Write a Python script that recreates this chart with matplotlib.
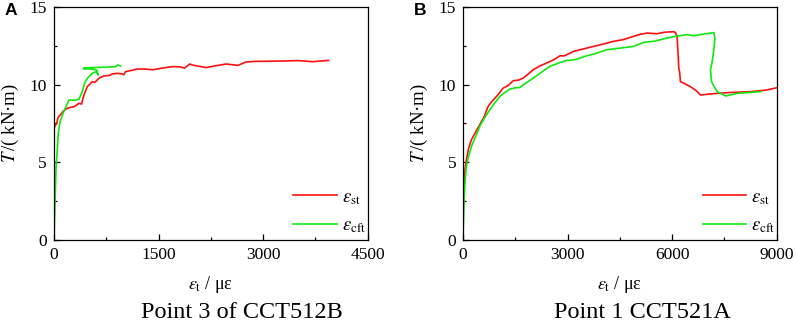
import matplotlib
matplotlib.use('Agg')
import matplotlib.pyplot as plt
from matplotlib.ticker import MultipleLocator

plt.rcParams['font.family'] = 'Liberation Serif'
plt.rcParams['mathtext.fontset'] = 'stix'

# Panel A: Point 3 of CCT512B
a_st_x = [0, 10, 38, 60, 110, 134, 191, 250, 287, 330, 358, 396, 430, 478, 549, 587, 645,
          716, 801, 836, 908, 979, 1002, 1027, 1147, 1183, 1290, 1422, 1529, 1696, 1800,
          1875, 1910, 1947, 2000, 2185, 2300, 2471, 2638, 2757, 2900, 3282, 3500, 3712, 3941]
a_st_y = [7.1, 7.3, 7.5, 7.9, 8.15, 8.3, 8.48, 8.55, 8.58, 8.7, 8.8, 8.75, 9.34, 9.87, 10.19,
          10.15, 10.41, 10.56, 10.6, 10.69, 10.73, 10.69, 10.64, 10.84, 10.95, 11.0, 11.01,
          10.96, 11.05, 11.16, 11.15, 11.07, 11.2, 11.33, 11.25, 11.1, 11.2, 11.33, 11.24,
          11.46, 11.5, 11.52, 11.55, 11.48, 11.56]
a_cft_x = [0, 10, 16, 30, 48, 62, 86, 134, 215, 290, 358, 406, 440, 478, 549, 611, 635, 625,
           611, 500, 420, 430, 550, 716, 884, 917, 955]
a_cft_y = [0, 1.5, 2.6, 4.7, 5.8, 6.9, 7.6, 8.2, 9.01, 9.0, 9.06, 9.55, 10.09, 10.41, 10.73,
           10.84, 10.62, 10.75, 10.95, 11.02, 11.01, 11.08, 11.1, 11.12, 11.16, 11.27, 11.2]

# Panel B: Point 1 CCT521A
b_st_x = [0, 10, 29, 60, 96, 160, 240, 350, 480, 600, 720, 840, 960, 1055, 1151, 1300, 1439,
          1600, 1727, 1850, 2015, 2200, 2399, 2600, 2783, 2900, 3000, 3166, 3450, 3742, 4000,
          4318, 4600, 4893, 5100, 5277, 5565, 5800, 6045, 6096, 6144, 6170, 6192, 6215, 6240,
          6335, 6527, 6700, 6815, 7000, 7295, 7700, 8252, 8700, 9000]
b_st_y = [0, 2.0, 3.44, 4.6, 5.16, 5.9, 6.45, 6.9, 7.42, 7.9, 8.6, 8.95, 9.24, 9.5, 9.78, 9.95,
          10.25, 10.3, 10.42, 10.65, 10.96, 11.2, 11.39, 11.6, 11.86, 11.85, 11.95, 12.14,
          12.3, 12.46, 12.6, 12.79, 12.9, 13.11, 13.25, 13.32, 13.28, 13.38, 13.41, 13.35,
          13.09, 12.0, 11.05, 10.8, 10.19, 10.09, 9.87, 9.6, 9.33, 9.38, 9.44, 9.5, 9.55,
          9.65, 9.8]
b_cft_x = [0, 10, 29, 60, 96, 160, 240, 350, 480, 600, 768, 900, 1055, 1200, 1343, 1500, 1631,
           1800, 2015, 2250, 2494, 2750, 2974, 3200, 3358, 3550, 3800, 4126, 4500, 4893, 5181,
           5500, 5853, 6144, 6429, 6621, 6910, 7198, 7227, 7200, 7150, 7102, 7131, 7200, 7295,
           7534, 7870, 8252, 8540]
b_cft_y = [0, 1.2, 2.58, 3.8, 4.73, 5.4, 6.02, 6.6, 7.31, 7.8, 8.38, 8.8, 9.24, 9.5, 9.71, 9.8,
           9.82, 10.1, 10.42, 10.8, 11.18, 11.4, 11.56, 11.6, 11.71, 11.86, 12.0, 12.25, 12.35,
           12.46, 12.72, 12.8, 13.0, 13.13, 13.22, 13.15, 13.26, 13.35, 12.98, 12.3, 11.5,
           10.94, 10.19, 9.9, 9.55, 9.27, 9.44, 9.5, 9.55]

panels = [
    ('A', 'Point 3 of CCT512B', a_st_x, a_st_y, a_cft_x, a_cft_y, 4500, 1500, 0.0678, 0.304),
    ('B', 'Point 1 CCT521A', b_st_x, b_st_y, b_cft_x, b_cft_y, 9000, 3000, 0.5817, 0.807),
]

red = '#ff1010'
green = '#10e810'

fig = plt.figure(figsize=(7.96, 3.33), dpi=100)
for letter, caption, sx, sy, cx, cy, xmax, xstep, left, capx in panels:
    ax = fig.add_axes([left, 0.2793, 0.394, 0.6997])
    ax.plot(sx, sy, color=red, lw=1.2, label=r'$\varepsilon_{\rm st}$')
    ax.plot(cx, cy, color=green, lw=1.2, label=r'$\varepsilon_{\rm cft}$')
    ax.set_xlim(0, xmax)
    ax.set_ylim(0, 15)
    ax.xaxis.set_major_locator(MultipleLocator(xstep))
    ax.xaxis.set_minor_locator(MultipleLocator(xstep / 2))
    ax.yaxis.set_major_locator(MultipleLocator(5))
    ax.yaxis.set_minor_locator(MultipleLocator(2.5))
    ax.tick_params(which='both', direction='in', labelsize=12.5, top=False, right=False)
    ax.tick_params(which='major', length=4, width=0.9, pad=5)
    ax.tick_params(which='minor', length=2.5, width=0.9)
    for s in ax.spines.values():
        s.set_linewidth(0.9)
    ax.set_xlabel(r'$\varepsilon_{\rm t}$ / με', fontsize=13, labelpad=8)
    ax.set_ylabel(r'$T\,$/( kN·m)', fontsize=13.5, labelpad=6)
    ax.legend(loc='lower right', bbox_to_anchor=(1.02, -0.01), frameon=False, fontsize=13.5,
              handlelength=2.3, handletextpad=0.3, labelspacing=0.55, borderaxespad=0.0)
    fig.text(left - 0.054, 0.967, letter, family='Liberation Sans',
             fontweight='bold', fontsize=12.5, ha='center', va='center')
    fig.text(capx, 0.062, caption, fontsize=17.5, ha='center', va='center')

fig.savefig('out.png', dpi=100)
